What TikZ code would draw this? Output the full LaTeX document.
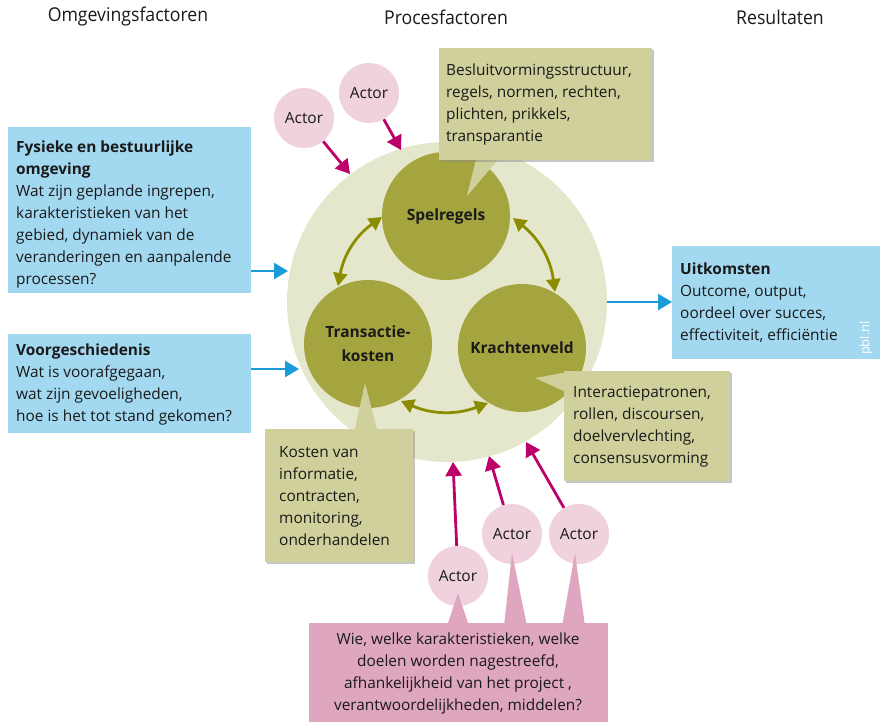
\documentclass[tikz,border=0pt]{standalone}
\usepackage{fontspec}
\setmainfont{Open Sans}
\newfontfamily\hdrfont[FakeStretch=0.93]{Open Sans}
\usetikzlibrary{arrows.meta,shadows}
\definecolor{boxblue}{HTML}{A3D8F1}
\definecolor{arrblue}{HTML}{1B9BD8}
\definecolor{palegreen}{HTML}{E5E7CD}
\definecolor{olive}{HTML}{A5A53F}
\definecolor{olivearr}{HTML}{8C8C00}
\definecolor{khaki}{HTML}{D0D09C}
\definecolor{actorpink}{HTML}{F0D2DF}
\definecolor{calloutpink}{HTML}{DFA6BF}
\definecolor{magentaarr}{HTML}{BE006B}
\definecolor{txtcol}{HTML}{1A1A1A}
\begin{document}
\begin{tikzpicture}[x=1pt,y=-1pt,
  hdr/.style={font=\hdrfont\fontsize{19}{22}\selectfont, text=txtcol, inner sep=0},
  txt/.style={anchor=north west, inner sep=0, align=left, text=txtcol, font=\fontsize{15.4}{22}\selectfont},
  boxnode/.style={anchor=north west, inner sep=0, draw=none, rectangle},
  bluebox/.style={boxnode, fill=boxblue},
  khakibox/.style={boxnode, fill=khaki, drop shadow={shadow xshift=1.5pt, shadow yshift=-1.5pt, fill=black!45, opacity=0.5}},
  pinkbox/.style={boxnode, fill=calloutpink},
  proc/.style={circle, fill=olive, minimum size=128pt, inner sep=0, align=center, text=txtcol, font=\fontsize{15.5}{24}\selectfont\bfseries},
  actornode/.style={circle, fill=actorpink, minimum size=60pt, inner sep=0, text=txtcol, font=\fontsize{15.5}{18}\selectfont},
  bluearrow/.style={draw=arrblue, line width=2.5pt, -{Triangle[length=14pt,width=16pt]}},
  olivearrow/.style={draw=olivearr, line width=2.8pt, {Triangle[length=13pt,width=14pt]}-{Triangle[length=13pt,width=14pt]}},
  magarrow/.style={draw=magentaarr, line width=2.8pt, -{Triangle[length=14pt,width=16pt]}},
]
\useasboundingbox (0,0) rectangle (880,722);

% headers
\node[hdr] (h1) at (128,17) {Omgevingsfactoren};
\node[hdr] (h2) at (446,17) {Procesfactoren};
\node[hdr] (h3) at (780,17) {Resultaten};

% big pale circle
\node[circle, fill=palegreen, minimum size=320pt, inner sep=0] (big) at (447,302) {};

% process circles
\node[proc] (spel) at (446,216) {Spelregels};
\node[proc] (trans) at (368,344) {Transactie-\\kosten};
\node[proc] (kracht) at (522,348) {Krachtenveld};

% olive double arrows
\coordinate (o1a) at (338,286);
\coordinate (o1b) at (382,217);
\coordinate (o2a) at (513,218);
\coordinate (o2b) at (555,292);
\coordinate (o3a) at (401,401);
\coordinate (o3b) at (488,403);
\draw[olivearrow] (o1a) to[bend left=22] (o1b);
\draw[olivearrow] (o2a) to[bend left=22] (o2b);
\draw[olivearrow] (o3a) to[bend right=22] (o3b);

% khaki callouts
\fill[khaki] (477,155) -- (467,196) -- (502,155) -- cycle;
\node[khakibox, minimum width=213pt, minimum height=112pt] (cspel) at (439,48) {};
\node[txt] (tspel) at (446,64) {Besluitvormingsstructuur,\\regels, normen, rechten,\\plichten, prikkels,\\transparantie};

\fill[khaki] (568,372) -- (535,378) -- (568,393) -- cycle;
\node[khakibox, minimum width=166pt, minimum height=110pt] (ckracht) at (564,371) {};
\node[txt] (tkracht) at (573,386) {Interactiepatronen,\\rollen, discoursen,\\doelvervlechting,\\consensusvorming};

\fill[khaki] (354,433) -- (365,383) -- (378,433) -- cycle;
\node[khakibox, minimum width=148pt, minimum height=133pt] (ctrans) at (265,429) {};
\node[txt] (ttrans) at (279,446) {Kosten van\\informatie,\\contracten,\\monitoring,\\onderhandelen};

% blue boxes
\node[bluebox, minimum width=243pt, minimum height=166pt] (fys) at (8,127) {};
\node[txt] (tfys) at (16,141) {\textbf{Fysieke en bestuurlijke}\\\textbf{omgeving}\\Wat zijn geplande ingrepen,\\karakteristieken van het\\gebied, dynamiek van de\\veranderingen en aanpalende\\processen?};

\node[bluebox, minimum width=243pt, minimum height=99pt] (voor) at (8,334) {};
\node[txt] (tvoor) at (16,344) {\textbf{Voorgeschiedenis}\\Wat is voorafgegaan,\\wat zijn gevoeligheden,\\hoe is het tot stand gekomen?};

\node[bluebox, minimum width=208pt, minimum height=113pt] (uit) at (672,246) {};
\node[txt] (tuit) at (680,263) {\textbf{Uitkomsten}\\Outcome, output,\\oordeel over succes,\\effectiviteit, efficiëntie};
\node[rotate=90, text=white, inner sep=0, font=\fontsize{13}{15}\selectfont] (pbl) at (866,338) {pbl.nl};

% blue arrows
\coordinate (b1) at (288,271);
\coordinate (b2) at (299,369);
\coordinate (b3) at (672,302);
\draw[bluearrow] (fys.east |- b1) -- (b1);
\draw[bluearrow] (voor.east |- b2) -- (b2);
\coordinate (b3s) at (607,302);
\draw[bluearrow] (b3s) -- (uit.west |- b3);

% actors top
\node[actornode] (a1) at (304,118) {Actor};
\node[actornode] (a2) at (369,93) {Actor};
\coordinate (m1) at (350,174);
\coordinate (m2) at (401,150);
\draw[magarrow] (a1) -- (m1);
\draw[magarrow] (a2) -- (m2);

% actors bottom
\node[actornode] (a3) at (458,576) {Actor};
\node[actornode] (a4) at (512,534) {Actor};
\node[actornode] (a5) at (579,534) {Actor};
\coordinate (m3) at (453,462);
\coordinate (m4) at (489,456);
\coordinate (m5) at (526,442);
\draw[magarrow] (a3) -- (m3);
\draw[magarrow] (a4) -- (m4);
\draw[magarrow] (a5) -- (m5);

% pink callout
\fill[calloutpink] (447,626) -- (458,593) -- (469,626) -- cycle;
\fill[calloutpink] (504,626) -- (512,553) -- (527,626) -- cycle;
\fill[calloutpink] (562,626) -- (575,553) -- (585,626) -- cycle;
\node[pinkbox, minimum width=299pt, minimum height=100pt] (cpink) at (309,623) {};
\node[txt, anchor=north, align=center] (tpink) at (458,633) {Wie, welke karakteristieken, welke\\doelen worden nagestreefd,\\afhankelijkheid van het project ,\\verantwoordelijkheden, middelen?};
\end{tikzpicture}
\end{document}
